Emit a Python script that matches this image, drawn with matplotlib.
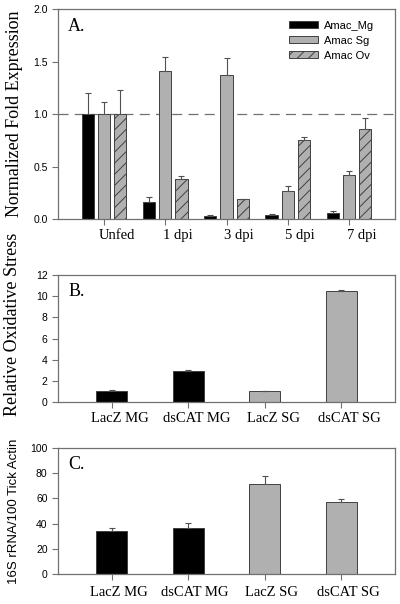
import numpy as np
import matplotlib
matplotlib.use("Agg")
import matplotlib.pyplot as plt
from matplotlib.patches import Patch
from matplotlib.transforms import ScaledTranslation

# --- donnees panneau A ---
jours = ["Unfed", "1 dpi", "3 dpi", "5 dpi", "7 dpi"]
amac_mg = [1.00, 0.16, 0.03, 0.04, 0.06]
amac_mg_err = [0.20, 0.05, 0.005, 0.005, 0.015]
amac_sg = [1.00, 1.41, 1.37, 0.27, 0.42]
amac_sg_err = [0.11, 0.13, 0.16, 0.04, 0.035]
amac_ov = [1.00, 0.38, 0.19, 0.75, 0.86]
amac_ov_err = [0.23, 0.03, 0.005, 0.035, 0.10]

# --- donnees panneaux B et C ---
traitements = ["LacZ MG", "dsCAT MG", "LacZ SG", "dsCAT SG"]
stress = [1.0, 2.9, 1.0, 10.5]
stress_err = [0.17, 0.08, 0.06, 0.08]
rrna = [34.2, 36.8, 71.6, 57.1]
rrna_err = [2.0, 4.0, 6.3, 2.6]

NOIR = "black"
GRIS = "#b0b0b0"
BORD = "#404040"
AXE = "#707070"
SERIF = ["Liberation Serif", "DejaVu Serif"]
SANS = ["Liberation Sans", "DejaVu Sans"]

plt.rcParams["hatch.linewidth"] = 0.7
plt.rcParams["font.family"] = SANS


def style_axe(ax):
    for s in ax.spines.values():
        s.set_color(AXE)
        s.set_linewidth(0.9)
    ax.tick_params(axis="both", direction="out", length=4, width=0.8,
                   color=AXE, labelsize=7.5)
    ax.tick_params(axis="x", labelsize=10.5)


def decaler_labels(ax, fig, dx):
    # les etiquettes x sont decalees vers la droite dans l'original
    for lab in ax.get_xticklabels():
        lab.set_transform(lab.get_transform()
                          + ScaledTranslation(dx / 72, 0, fig.dpi_scale_trans))


def barres(ax, x, vals, errs, couleur, largeur, hatch=None):
    ax.bar(x, vals, width=largeur, color=couleur, edgecolor=BORD,
           linewidth=0.7, hatch=hatch, zorder=2)
    ax.errorbar(x, vals, yerr=[np.zeros(len(errs)), errs], fmt="none",
                ecolor="#505050", elinewidth=0.8, capsize=2.5,
                capthick=0.8, zorder=3)


fig = plt.figure(figsize=(4, 6.04), dpi=100)

# ============================================================================
# PANNEAU A
# ============================================================================
axA = fig.add_axes([0.145, 0.6374, 0.8425, 0.3477])
x = np.arange(len(jours))
pas = 0.265
larg = 0.2
barres(axA, x - pas, amac_mg, amac_mg_err, NOIR, larg)
barres(axA, x, amac_sg, amac_sg_err, GRIS, larg)
barres(axA, x + pas, amac_ov, amac_ov_err, GRIS, larg, hatch="///")
axA.axhline(1.0, color="#707070", linestyle=(0, (8, 5)), linewidth=0.9, zorder=1)
axA.set_xlim(-0.75, 4.75)
axA.set_ylim(0, 2.0)
axA.set_yticks(np.arange(0, 2.01, 0.5))
axA.set_yticklabels([f"{v:.1f}" for v in np.arange(0, 2.01, 0.5)])
axA.set_xticks(x)
axA.set_xticklabels(jours, family=SERIF)
style_axe(axA)
decaler_labels(axA, fig, 9)
axA.set_ylabel("Normalized Fold Expression", family=SERIF, fontsize=13)
axA.yaxis.set_label_coords(-0.105, 0.5)
axA.text(0.03, 0.955, "A.", transform=axA.transAxes, family=SERIF,
         fontsize=13, va="top", ha="left")

poignees = [Patch(facecolor=NOIR, edgecolor=BORD, linewidth=0.7),
            Patch(facecolor=GRIS, edgecolor=BORD, linewidth=0.7),
            Patch(facecolor=GRIS, edgecolor=BORD, linewidth=0.7, hatch="///")]
axA.legend(poignees, ["Amac_Mg", "Amac Sg", "Amac Ov"], loc="upper left",
           bbox_to_anchor=(0.685, 0.945), frameon=False, fontsize=8,
           handlelength=2.6, handleheight=0.5, labelspacing=0.45,
           handletextpad=0.55, borderpad=0, borderaxespad=0)

# ============================================================================
# PANNEAUX B ET C
# ============================================================================
couleurs = [NOIR, NOIR, GRIS, GRIS]
xt = np.arange(len(traitements))

axB = fig.add_axes([0.145, 0.3344, 0.8425, 0.2103])
for i in range(len(traitements)):
    barres(axB, [xt[i]], [stress[i]], [stress_err[i]], couleurs[i], 0.4)
axB.set_xlim(-0.7, 3.7)
axB.set_ylim(0, 12)
axB.set_yticks(np.arange(0, 13, 2))
axB.set_xticks(xt)
axB.set_xticklabels(traitements, family=SERIF)
style_axe(axB)
decaler_labels(axB, fig, 6)
axB.set_ylabel("Relative Oxidative Stress", family=SERIF, fontsize=13)
axB.yaxis.set_label_coords(-0.11, 0.61)
axB.text(0.03, 0.94, "B.", transform=axB.transAxes, family=SERIF,
         fontsize=13, va="top", ha="left")

axC = fig.add_axes([0.145, 0.0497, 0.8425, 0.2086])
for i in range(len(traitements)):
    barres(axC, [xt[i]], [rrna[i]], [rrna_err[i]], couleurs[i], 0.4)
axC.set_xlim(-0.7, 3.7)
axC.set_ylim(0, 100)
axC.set_yticks(np.arange(0, 101, 20))
axC.set_xticks(xt)
axC.set_xticklabels(traitements, family=SERIF)
style_axe(axC)
axC.tick_params(axis="x", pad=5)
decaler_labels(axC, fig, 5)
axC.set_ylabel("16S rRNA/100 Tick Actin", fontsize=9.5)
axC.yaxis.set_label_coords(-0.113, 0.5)
axC.text(0.03, 0.94, "C.", transform=axC.transAxes, family=SERIF,
         fontsize=13, va="top", ha="left")

fig.savefig("out.png", dpi=100)
